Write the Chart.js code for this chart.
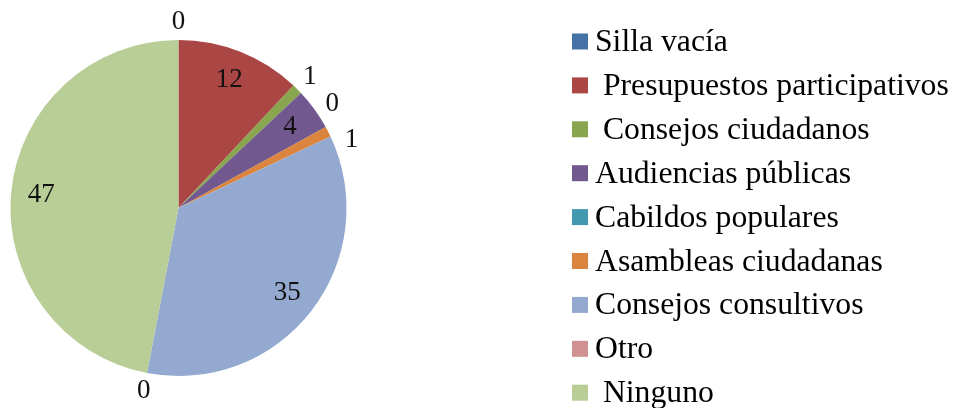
<!DOCTYPE html>
<html>
<head>
<meta charset="utf-8">
<script src="https://cdn.jsdelivr.net/npm/chart.js@4.4.1/dist/chart.umd.min.js"></script>
<style>
  html, body { margin: 0; padding: 0; background: #fff; }
  #wrap { width: 955px; height: 408px; }
</style>
</head>
<body>
<div id="wrap"><canvas id="pie" width="955" height="408"></canvas></div>
<script>
// leading spaces are in the original legend
const categories = [
  "Silla vacía",
  " Presupuestos participativos",
  " Consejos ciudadanos",
  "Audiencias públicas",
  "Cabildos populares",
  "Asambleas ciudadanas",
  "Consejos consultivos",
  "Otro",
  " Ninguno",
];
const counts = [0, 12, 1, 4, 0, 1, 35, 0, 47];
const sliceColors = ["#4572A7", "#AA4643", "#89A54E", "#71588F", "#4198AF", "#DB843D", "#93A9CF", "#D19392", "#B9CD96"];

const FONT = "'Liberation Serif', 'Times New Roman', serif";

// value labels: inside for big slices, just outside the rim for tiny ones
const sliceLabels = {
  id: "sliceLabels",
  afterDatasetsDraw(chart) {
    const ctx = chart.ctx;
    const values = chart.data.datasets[0].data;
    const items = chart.getDatasetMeta(0).data.map((arc, i) => {
      const p = arc.getProps(["x", "y", "startAngle", "endAngle", "outerRadius"], true);
      return {
        i,
        x: p.x,
        y: p.y,
        r: p.outerRadius,
        mid: (p.startAngle + p.endAngle) / 2,
        outside: p.endAngle - p.startAngle < 0.15,
      };
    });

    // spread outside labels that would sit on top of each other
    const outs = items.filter((it) => it.outside);
    for (let k = 1; k < outs.length; k++) {
      const a = outs[k - 1];
      const b = outs[k];
      if (b.mid - a.mid < 0.21) {
        const m = (a.mid + b.mid) / 2;
        a.mid = m - 0.11;
        b.mid = m + 0.11;
      }
    }

    ctx.save();
    ctx.font = "27px " + FONT;
    ctx.fillStyle = "#111";
    ctx.textAlign = "center";
    ctx.textBaseline = "middle";
    items.forEach((it) => {
      const d = it.outside ? it.r + 18 : it.r * 0.82;
      ctx.fillText(String(values[it.i]), it.x + Math.cos(it.mid) * d, it.y + Math.sin(it.mid) * d);
    });
    ctx.restore();
  },
};

const sideLegend = {
  id: "sideLegend",
  afterDraw(chart) {
    const ctx = chart.ctx;
    const colors = chart.data.datasets[0].backgroundColor;
    ctx.save();
    ctx.font = "31.7px " + FONT;
    ctx.textAlign = "left";
    ctx.textBaseline = "alphabetic";
    chart.data.labels.forEach((label, i) => {
      const base = 51 + i * 43.9;
      ctx.fillStyle = colors[i];
      ctx.fillRect(572, base - 17.5, 16, 16);
      ctx.fillStyle = "#000";
      ctx.fillText(label, 595, base);
    });
    ctx.restore();
  },
};

new Chart(document.getElementById("pie"), {
  type: "pie",
  data: {
    labels: categories,
    datasets: [
      {
        data: counts,
        backgroundColor: sliceColors,
        borderWidth: 0,
      },
    ],
  },
  options: {
    responsive: false,
    animation: false,
    devicePixelRatio: 1,
    layout: {
      padding: { left: 10, right: 608, top: 40, bottom: 32 },
    },
    plugins: {
      legend: { display: false },
      tooltip: { enabled: false },
    },
  },
  plugins: [sliceLabels, sideLegend],
});
</script>
</body>
</html>
